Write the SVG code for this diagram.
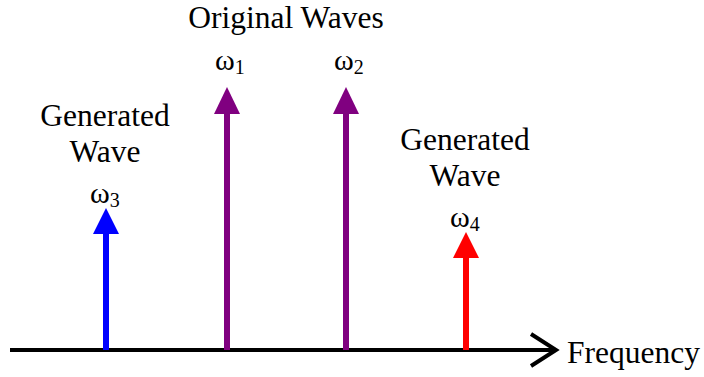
<svg xmlns="http://www.w3.org/2000/svg" width="704" height="377" viewBox="0 0 704 377">
<style>
text{font-family:"Liberation Serif","Times New Roman",serif;font-size:31.5px;fill:#000}
.w{font-size:30px}
.s{font-size:20px}
.shaft{stroke-width:6;fill:none}
</style>
<rect width="704" height="377" fill="#fff"/>
<g id="connectors">
<g id="axis">
<line x1="10" y1="350" x2="556" y2="350" stroke="#000" stroke-width="4"/>
<polyline points="531,334 556,350 531,366" fill="none" stroke="#000" stroke-width="4"/>
</g>
<g id="arrow-w3">
<line class="shaft" x1="106" y1="350" x2="106" y2="230" stroke="#0000ff"/>
<polygon points="106,208 93,234 119,234" fill="#0000ff"/>
</g>
<g id="arrow-w1">
<line class="shaft" x1="227" y1="350" x2="227" y2="110" stroke="#800080"/>
<polygon points="227,87 214,114 240,114" fill="#800080"/>
</g>
<g id="arrow-w2">
<line class="shaft" x1="346" y1="350" x2="346" y2="110" stroke="#800080"/>
<polygon points="346,87 333,114 359,114" fill="#800080"/>
</g>
<g id="arrow-w4">
<line class="shaft" x1="466" y1="350" x2="466" y2="254" stroke="#ff0000"/>
<polygon points="466,232 453,258 479,258" fill="#ff0000"/>
</g>
</g>
<g id="label-original">
<text x="286" y="28" text-anchor="middle">Original Waves</text>
</g>
<g id="label-w1">
<text x="215" y="70" class="w">ω<tspan class="s" dy="4">1</tspan></text>
</g>
<g id="label-w2">
<text x="334" y="70" class="w">ω<tspan class="s" dy="4">2</tspan></text>
</g>
<g id="label-gen-left">
<text x="105" y="126" text-anchor="middle">Generated</text>
<text x="105" y="162" text-anchor="middle">Wave</text>
<text x="90" y="203" class="w">ω<tspan class="s" dy="4">3</tspan></text>
</g>
<g id="label-gen-right">
<text x="465" y="150" text-anchor="middle">Generated</text>
<text x="465" y="186" text-anchor="middle">Wave</text>
<text x="450" y="227" class="w">ω<tspan class="s" dy="4">4</tspan></text>
</g>
<g id="label-frequency">
<text x="567" y="363">Frequency</text>
</g>
</svg>
